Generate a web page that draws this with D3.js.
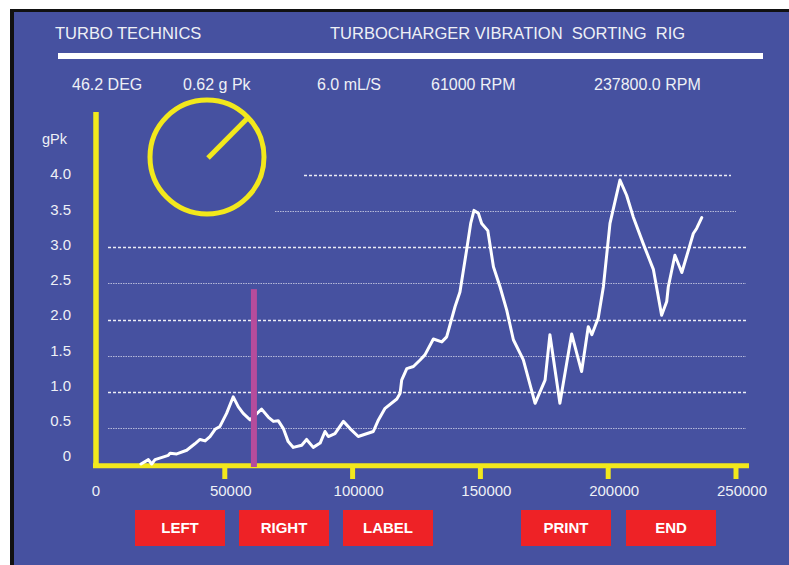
<!DOCTYPE html>
<html>
<head>
<meta charset="utf-8">
<script src="https://cdn.jsdelivr.net/npm/d3@7"></script>
<style>
  html, body { margin: 0; padding: 0; background: white; }
  svg { display: block; font-family: "Liberation Sans", Arial, sans-serif; }
</style>
</head>
<body>
<div id="chart"></div>
<script>
// readings shown along the top
var headerTitles = ["TURBO TECHNICS", "TURBOCHARGER VIBRATION  SORTING  RIG"];
var readouts = ["46.2 DEG", "0.62 g Pk", "6.0 mL/S", "61000 RPM", "237800.0 RPM"];
var dialDeg = 46.2;

// axes
var xTicks = [0, 50000, 100000, 150000, 200000, 250000];
var yTicks = [0, 0.5, 1.0, 1.5, 2.0, 2.5, 3.0, 3.5, 4.0];
var yLabels = ["0", "0.5", "1.0", "1.5", "2.0", "2.5", "3.0", "3.5", "4.0"];

// cursor
var cursorRpm = 61000;
var cursorTop = 2.42;

// vibration trace: speed (RPM) vs gPk
var rpm = [17200, 20100, 21400, 22700, 27900, 28600, 31200, 35100, 38300, 40300,
  42300, 44200, 46200, 48100, 50700, 53300, 55300, 57200, 59900, 64400,
  67000, 69000, 70900, 72900, 74800, 76800, 80100, 82000, 84600, 87300,
  89200, 90500, 93100, 96400, 99000, 102200, 108100, 110100, 112700, 117300,
  118600, 119200, 121200, 123800, 126400, 128300, 131600, 134900, 136800, 140100,
  142000, 144600, 146200, 147500, 149200, 150500, 152900, 155100, 157700, 160300,
  162900, 166800, 171400, 175300, 177200, 181100, 185700, 189600, 192200, 193600,
  196100, 198100, 200700, 203100, 204600, 207200, 209800, 213700, 217700, 220900,
  222900, 223500, 226100, 228800, 231400, 233300, 234600, 236600];
var gpk = [0.00, 0.06, 0.00, 0.06, 0.12, 0.15, 0.14, 0.19, 0.28, 0.34,
  0.32, 0.38, 0.48, 0.52, 0.70, 0.93, 0.79, 0.70, 0.61, 0.76,
  0.65, 0.59, 0.60, 0.49, 0.31, 0.23, 0.26, 0.34, 0.23, 0.29,
  0.45, 0.38, 0.42, 0.59, 0.49, 0.38, 0.45, 0.61, 0.77, 0.90,
  0.98, 1.16, 1.32, 1.35, 1.44, 1.51, 1.73, 1.69, 1.76, 2.18,
  2.38, 2.96, 3.33, 3.51, 3.47, 3.33, 3.23, 2.73, 2.45, 2.13,
  1.72, 1.44, 0.84, 1.16, 1.79, 0.84, 1.80, 1.28, 1.90, 1.79,
  2.02, 2.45, 3.33, 3.70, 3.93, 3.72, 3.42, 3.05, 2.69, 2.06,
  2.25, 2.45, 2.89, 2.65, 2.96, 3.19, 3.26, 3.41];

var buttons = ["LEFT", "RIGHT", "LABEL", "PRINT", "END"];

var W = 789, H = 565;
var BLUE = "#4651A0", YELLOW = "#F2E81C", TXT = "#EEF0F6";

function Rig(el) {
  var _self = this;
  _self.x = d3.scaleLinear().domain([0, 250000]).range([97, 736]);
  _self.y = d3.scaleLinear().domain([0, 4]).range([464, 175]);
  // tick text sits a little above the grid it names
  _self.yText = d3.scaleLinear().domain([0, 4]).range([456, 174]);

  _self.svg = d3.select(el)
    .append("svg")
      .attr("width", W)
      .attr("height", H);

  _self.svg.append("rect")
      .attr("x", 10).attr("y", 9)
      .attr("width", W - 10).attr("height", H - 9)
      .style("fill", "#111");

  _self.svg.append("rect")
      .attr("x", 14).attr("y", 12)
      .attr("width", W - 14).attr("height", H - 12)
      .style("fill", BLUE);

  _self.drawHeader();
  _self.drawGrid();
  _self.drawAxes();
  _self.drawDial();
  _self.drawTrace();
  _self.drawButtons();
}

Rig.prototype.drawHeader = function() {
  var _self = this;
  var tx = [55, 330];
  _self.svg.selectAll("text.title")
      .data(headerTitles).enter()
    .append("text")
      .attr("class", "title")
      .attr("x", (d,i)=>tx[i])
      .attr("y", 39)
      .style("font-size", "16.5px")
      .style("white-space", "pre")
      .style("fill", TXT)
      .text(d=>d);

  _self.svg.append("rect")
      .attr("x", 58).attr("y", 53)
      .attr("width", 705).attr("height", 6)
      .style("fill", "white");

  var rx = [72, 183, 317, 431, 594];
  _self.svg.selectAll("text.readout")
      .data(readouts).enter()
    .append("text")
      .attr("class", "readout")
      .attr("x", (d,i)=>rx[i])
      .attr("y", 90)
      .style("font-size", "16px")
      .style("fill", TXT)
      .text(d=>d);
};

Rig.prototype.drawGrid = function() {
  var _self = this;
  // top two lines stop short of the dial
  var startX = {"4": 304, "3.5": 275};
  var endX = {"4": 731, "3.5": 736};
  _self.svg.append("g")
      .attr("class", "grid")
      .selectAll("line")
      .data(yTicks.filter(d=>d > 0)).enter()
    .append("line")
      .attr("x1", d=>startX[d] || 108)
      .attr("x2", d=>endX[d] || 746)
      .attr("y1", d=>Math.round(_self.y(d)) + 0.5)
      .attr("y2", d=>Math.round(_self.y(d)) + 0.5)
      .style("stroke", "white")
      .style("stroke-width", d=>d % 1 == 0 ? 1.6 : 1)
      .style("stroke-dasharray", d=>d % 1 == 0 ? "3,2" : "1.5,1")
      .style("opacity", d=>d % 1 == 0 ? 0.9 : 0.6);
};

Rig.prototype.drawAxes = function() {
  var _self = this;
  var x0 = _self.x(0);
  var yAxisX = 96;

  _self.svg.append("line")
      .attr("x1", yAxisX).attr("x2", yAxisX)
      .attr("y1", 112).attr("y2", 468)
      .style("stroke", YELLOW)
      .style("stroke-width", 5.5);

  _self.svg.append("line")
      .attr("x1", 93).attr("x2", _self.x(250000) + 13)
      .attr("y1", 465.8).attr("y2", 465.8)
      .style("stroke", YELLOW)
      .style("stroke-width", 5);

  _self.svg.selectAll("line.xtick")
      .data(xTicks.slice(1)).enter()
    .append("line")
      .attr("class", "xtick")
      .attr("x1", d=>_self.x(d)).attr("x2", d=>_self.x(d))
      .attr("y1", 466).attr("y2", 479)
      .style("stroke", YELLOW)
      .style("stroke-width", 5);

  _self.svg.selectAll("text.xlab")
      .data(xTicks).enter()
    .append("text")
      .attr("class", "xlab")
      .attr("x", d=>d ? _self.x(d) + 6 : x0 - 1)
      .attr("y", 496)
      .style("text-anchor", "middle")
      .style("font-size", "15px")
      .style("fill", TXT)
      .text(d=>d);

  _self.svg.selectAll("text.ylab")
      .data(yTicks).enter()
    .append("text")
      .attr("class", "ylab")
      .attr("x", 71)
      .attr("y", d=>_self.yText(d))
      .attr("dy", "0.36em")
      .style("text-anchor", "end")
      .style("font-size", "15px")
      .style("fill", TXT)
      .text((d,i)=>yLabels[i]);

  _self.svg.append("text")
      .attr("x", 67)
      .attr("y", 144)
      .style("text-anchor", "end")
      .style("font-size", "14.5px")
      .style("fill", TXT)
      .text("gPk");
};

Rig.prototype.drawDial = function() {
  var _self = this;
  var cx = 207, cy = 157, r = 57;
  var a = dialDeg * Math.PI / 180;

  _self.svg.append("circle")
      .attr("cx", cx).attr("cy", cy).attr("r", r)
      .style("fill", "none")
      .style("stroke", YELLOW)
      .style("stroke-width", 5);

  _self.svg.append("line")
      .attr("x1", cx + 1).attr("y1", cy + 1)
      .attr("x2", cx + (r - 2) * Math.sin(a))
      .attr("y2", cy - (r - 2) * Math.cos(a))
      .style("stroke", YELLOW)
      .style("stroke-width", 5);
};

Rig.prototype.drawTrace = function() {
  var _self = this;
  var pts = rpm.map((d,i)=>({"rpm": d, "g": gpk[i]}));

  var line = d3.line()
    .x(d=>_self.x(d.rpm))
    .y(d=>_self.y(d.g));

  _self.svg.append("path")
      .datum(pts)
      .attr("d", line)
      .style("fill", "none")
      .style("stroke", "white")
      .style("stroke-width", 3)
      .style("stroke-linejoin", "round")
      .style("stroke-linecap", "round");

  _self.svg.append("rect")
      .attr("x", _self.x(cursorRpm) - 2)
      .attr("y", _self.y(cursorTop))
      .attr("width", 6)
      .attr("height", 467 - _self.y(cursorTop))
      .style("fill", "#B64C9C");
};

Rig.prototype.drawButtons = function() {
  var _self = this;
  var bx = [135, 239, 343, 521, 626];
  var g = _self.svg.selectAll("g.btn")
      .data(buttons).enter()
    .append("g")
      .attr("class", "btn")
      .attr("transform", (d,i)=>"translate(" + bx[i] + ",510)");

  g.append("rect")
      .attr("width", 90)
      .attr("height", 36)
      .style("fill", "#EE2226");

  g.append("text")
      .attr("x", 45)
      .attr("y", 23)
      .style("text-anchor", "middle")
      .style("font-size", "15px")
      .style("font-weight", "bold")
      .style("fill", "white")
      .text(d=>d);
};

new Rig("#chart");
</script>
</body>
</html>
